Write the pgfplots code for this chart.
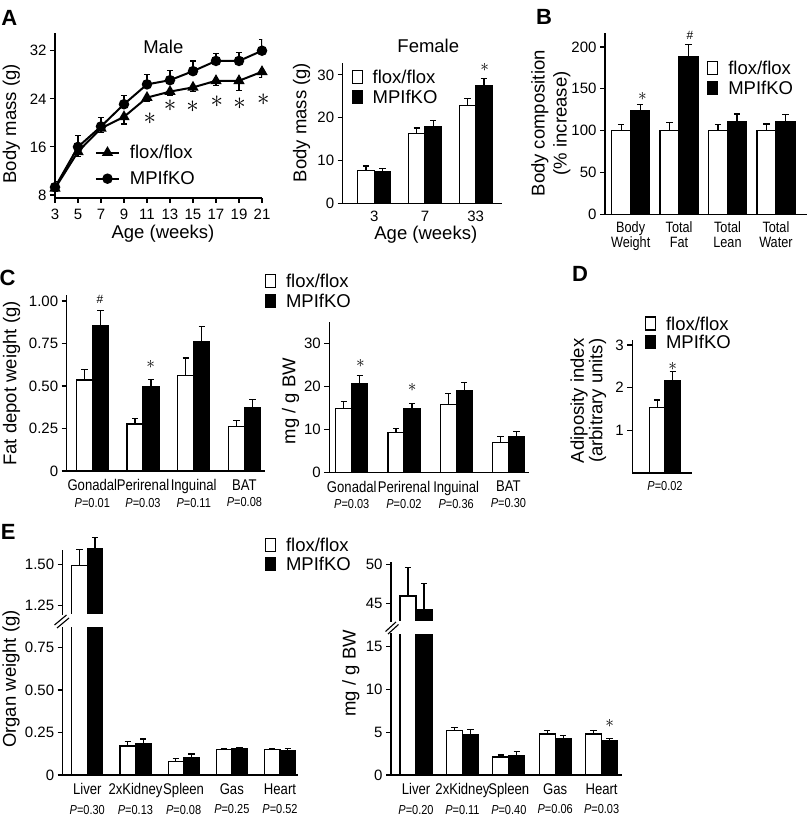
\documentclass[border=0pt]{standalone}
\usepackage{pgfplots}
\pgfplotsset{compat=1.18}
\usepackage{fontspec}
\setmainfont{Liberation Sans}
\newfontfamily\narrowfont[FakeStretch=0.845]{Liberation Sans}
\newcommand\tickfont{\fontsize{15}{17}\selectfont}
\newcommand\labfont{\fontsize{18.5}{21}\selectfont}
\newcommand\legfont{\fontsize{18.5}{21}\selectfont}
\newcommand\catfont{\narrowfont\fontsize{15.5}{16.5}\selectfont}
\newcommand\catfontB{\narrowfont\fontsize{15}{14.6}\selectfont}
\newcommand\pfont{\narrowfont\fontsize{13}{16}\selectfont}
\newcommand\panfont{\bfseries\fontsize{22}{24}\selectfont}
\newcommand\bigast{\fontsize{24.88}{26}\selectfont$\ast$}
\newcommand\smast{\fontsize{17.28}{18}\selectfont$\ast$}
\newcommand\hashm{\fontsize{12}{13}\selectfont\#}
\newcommand\Pv[1]{{\pfont\textit{P}=#1}}
\tikzset{ann/.style={inner sep=0pt}}

\pgfplotsset{
  base/.style={
    scale only axis, anchor=south west,
    axis lines=left, axis line style={-, line width=1.2pt},
    tick style={black, line width=1.2pt},
    major tick length=5pt, tick align=outside,
    ticklabel style={font=\tickfont},
    /pgf/number format/assume math mode=true,
    clip mode=individual,
    error bars/error bar style={line width=1.2pt, black},
    error bars/error mark options={rotate=90, mark size=3.2pt, line width=1.2pt, black},
  },
  legsty/.style={
    legend style={draw=none, fill=none, inner sep=0pt, outer sep=0pt,
      anchor=north west, column sep=10pt, font=\legfont,
      nodes={inner sep=0pt, text height=14pt, text depth=0.8pt}},
    legend cell align=left,
  },
  barax/.style={base, legsty, ybar=0pt,
    xtick style={draw=none},
    xticklabel style={font=\catfont, align=center},
    error bars/y dir=plus, error bars/y explicit,
    legend style={row sep=4.9pt},
  },
  wbar/.style={fill=white, draw=black, line width=1.2pt,
    legend image code/.code={\draw[fill=white,draw=black,line width=1.2pt] (0.6pt,-6.5pt) rectangle (10.4pt,6.5pt);}},
  kbar/.style={fill=black, draw=black, line width=1.2pt,
    legend image code/.code={\draw[fill=black,draw=black,line width=1.2pt] (0.6pt,-6.5pt) rectangle (10.4pt,6.5pt);}},
}

\begin{document}
\begin{tikzpicture}
\useasboundingbox (0,0) rectangle (807pt,816pt);

% ---------------- A: Male ----------------
\begin{axis}[base, legsty, at={(55pt,618pt)}, width=207pt, height=165pt,
  xmin=3, xmax=21, ymin=7.5, ymax=34.95,
  xtick={3,5,...,21}, ytick={8,16,24,32},
  xticklabel style={inner sep=1pt, yshift=-5pt},
  legend style={at={(0.1932,0.3255)}, row sep=11.2pt},
  legend image code/.code={\draw[mark repeat=2,mark phase=2,#1] plot coordinates {(0pt,-1pt) (11.5pt,-1pt) (23pt,-1pt)};}]
\addplot[black, line width=2pt, mark=triangle*, mark size=4.6pt,
  error bars/.cd, y dir=minus, y explicit] coordinates {
  (3,9.1) +- (0,0.5) (5,15.2) +- (0,0.8) (7,19.1) +- (0,0.7) (9,21.0) +- (0,1.2)
  (11,24.2) +- (0,0.6) (13,25.2) +- (0,0.6) (15,25.9) +- (0,0.7) (17,27.0) +- (0,0.8)
  (19,27.0) +- (0,1.6) (21,28.5) +- (0,0.9)};
\addplot[black, line width=2pt, mark=*, mark size=4.2pt,
  error bars/.cd, y dir=plus, y explicit] coordinates {
  (3,9.3) +- (0,1.0) (5,16.0) +- (0,1.9) (7,19.4) +- (0,1.5) (9,23.1) +- (0,1.5)
  (11,26.4) +- (0,1.7) (13,27.1) +- (0,1.6) (15,28.6) +- (0,1.7) (17,30.3) +- (0,1.2)
  (19,30.3) +- (0,1.4) (21,32.0) +- (0,1.9)};
\legend{flox/flox, MPIfKO}
\node[ann] at (axis cs:11.25,20.76) {\bigast};
\node[ann] at (axis cs:13.0,22.81) {\bigast};
\node[ann] at (axis cs:14.97,22.69) {\bigast};
\node[ann] at (axis cs:17.07,23.52) {\bigast};
\node[ann] at (axis cs:19.05,23.26) {\bigast};
\node[ann] at (axis cs:21.12,23.81) {\bigast};
\end{axis}

% ---------------- A: Female ----------------
\begin{axis}[barax, at={(342.7pt,612.7pt)}, width=159pt, height=140pt,
  xmin=-0.623, xmax=2.513, ymin=0, ymax=32.7, bar width=16.5pt,
  xtick={0,1,2}, xticklabels={3,7,33}, xticklabel style={font=\tickfont, inner sep=1pt, yshift=-2pt},
  ytick={0,10,20,30},
  legend style={at={(0.0566,0.9536)}}]
\addplot[wbar] coordinates {(0,7.7) +- (0,1.0) (1,16.3) +- (0,1.3) (2,22.8) +- (0,1.6)};
\addplot[kbar] coordinates {(0,7.4) +- (0,0.7) (1,18.0) +- (0,1.4) (2,27.6) +- (0,1.6)};
\legend{flox/flox, MPIfKO}
\node[ann] at (axis cs:2.178,31.7) {\smast};
\end{axis}

% ---------------- B ----------------
\begin{axis}[barax, at={(605pt,601.7pt)}, width=201.7pt, height=181pt,
  xmin=-0.53, xmax=3.636, ymin=0, ymax=216.4, bar width=19pt,
  xtick={0,1,2,3}, xticklabels={{Body\\Weight},{Total\\Fat},{Total\\Lean},{Total\\Water}},
  xticklabel style={font=\catfontB, yshift=1pt},
  ytick={0,50,100,150,200},
  legend style={at={(0.507,0.848)}}]
\addplot[wbar] coordinates {(0,100) +- (0,7) (1,100) +- (0,10) (2,100) +- (0,7) (3,100) +- (0,8)};
\addplot[kbar] coordinates {(0,123.5) +- (0,8) (1,189) +- (0,14) (2,111) +- (0,9) (3,110.5) +- (0,9)};
\legend{flox/flox, MPIfKO}
\node[ann] at (axis cs:0.244,140.6) {\smast};
\node[ann] at (axis cs:1.225,213.7) {\hashm};
\end{axis}

% ---------------- C left ----------------
\begin{axis}[barax, at={(66.7pt,345pt)}, width=198.3pt, height=176pt,
  xmin=-0.505, xmax=3.406, ymin=0, ymax=1.035, bar width=16pt,
  xtick={0,1,2,3}, xticklabels={{Gonadal\\\Pv{0.01}},{Perirenal\\\Pv{0.03}},{Inguinal\\\Pv{0.11}},{BAT\\\Pv{0.08}}},
  ytick={0,0.25,0.5,0.75,1}, yticklabels={0,0.25,0.50,0.75,1.00},
  legend style={at={(1.0,1.1216)}, row sep=5.2pt}]
\addplot[wbar] coordinates {(0,0.535) +- (0,0.063) (1,0.276) +- (0,0.034) (2,0.56) +- (0,0.105) (3,0.26) +- (0,0.036)};
\addplot[kbar] coordinates {(0,0.854) +- (0,0.088) (1,0.496) +- (0,0.043) (2,0.76) +- (0,0.088) (3,0.372) +- (0,0.05)};
\legend{flox/flox, MPIfKO}
\node[ann] at (axis cs:0.152,1.011) {\hashm};
\node[ann] at (axis cs:1.154,0.629) {\smast};
\end{axis}

% ---------------- C right ----------------
\begin{axis}[barax, at={(329.3pt,343.7pt)}, width=200pt, height=150.6pt,
  xmin=-0.43, xmax=3.40, ymin=0, ymax=35, bar width=16pt,
  xtick={0,1,2,3}, xticklabels={{Gonadal\\\Pv{0.03}},{Perirenal\\\Pv{0.02}},{Inguinal\\\Pv{0.36}},{BAT\\\Pv{0.30}}},
  ytick={0,10,20,30}]
\addplot[wbar] coordinates {(0,14.9) +- (0,1.5) (1,9.2) +- (0,1.0) (2,15.8) +- (0,2.6) (3,7.0) +- (0,1.3)};
\addplot[kbar] coordinates {(0,20.5) +- (0,2.0) (1,14.9) +- (0,1.1) (2,19.0) +- (0,1.9) (3,8.3) +- (0,1.2)};
\node[ann] at (axis cs:0.165,25.4) {\smast};
\node[ann] at (axis cs:1.159,19.8) {\smast};
\end{axis}

% ---------------- D ----------------
\begin{axis}[barax, at={(632.3pt,343pt)}, width=59.4pt, height=133pt,
  xmin=-1.09, xmax=0.89, ymin=0, ymax=3.115, bar width=15.7pt,
  xtick={0}, xticklabels={\Pv{0.02}},
  ytick={1,2,3},
  legend style={at={(0.2138,1.18)}, row sep=3.6pt}]
\addplot[wbar] coordinates {(0,1.54) +- (0,0.17)};
\addplot[kbar] coordinates {(0,2.16) +- (0,0.21)};
\legend{flox/flox, MPIfKO}
\node[ann] at (axis cs:0.26,2.49) {\smast};
\end{axis}

% ---------------- E left (lower) ----------------
\begin{axis}[barax, at={(62.7pt,41pt)}, width=235.6pt, height=148.3pt,
  xmin=-0.51, xmax=4.38, ymin=0, ymax=0.872, bar width=15.5pt,
  xtick={0,1,2,3,4},
  xticklabels={{Liver\\[3pt]\Pv{0.30}},{2xKidney\\[3pt]\Pv{0.13}},{Spleen\\[3pt]\Pv{0.08}},{Gas\\[3pt]\Pv{0.25}},{Heart\\[3pt]\Pv{0.52}}},
  ytick={0,0.25,0.5,0.75}, yticklabels={0,0.25,0.50,0.75},
  legend style={at={(0.8587,1.601)}, row sep=4.2pt}]
\addplot[wbar] coordinates {(0,1.495) +- (0,0.10) (1,0.17) +- (0,0.027) (2,0.081) +- (0,0.015) (3,0.148) +- (0,0.006) (4,0.150) +- (0,0.008)};
\addplot[kbar] coordinates {(0,1.60) +- (0,0.065) (1,0.187) +- (0,0.025) (2,0.102) +- (0,0.021) (3,0.154) +- (0,0.009) (4,0.142) +- (0,0.012)};
\legend{flox/flox, MPIfKO}
\end{axis}
% ---------------- E left (upper) ----------------
\begin{axis}[barax, at={(62.7pt,201pt)}, width=235.6pt, height=82.9pt,
  xmin=-0.51, xmax=4.38, ymin=1.19, ymax=1.70, bar width=15.5pt,
  axis x line=none, y axis line style={shorten >=17.9pt},
  ytick={1.25,1.5}, yticklabels={1.25,1.50}]
\addplot[wbar] coordinates {(0,1.495) +- (0,0.10)};
\addplot[kbar] coordinates {(0,1.60) +- (0,0.065)};
\end{axis}

% ---------------- E right (lower) ----------------
\begin{axis}[barax, at={(391pt,41pt)}, width=231.3pt, height=141.7pt,
  xmin=-0.539, xmax=4.446, ymin=0, ymax=16.57, bar width=16pt,
  xtick={0,1,2,3,4},
  xticklabels={{Liver\\[3pt]\Pv{0.20}},{2xKidney\\[3pt]\Pv{0.11}},{Spleen\\[3pt]\Pv{0.40}},{Gas\\[3pt]\Pv{0.06}},{Heart\\[3pt]\Pv{0.03}}},
  ytick={0,5,10,15}]
\addplot[wbar] coordinates {(0,46.0) +- (0,3.7) (1,5.2) +- (0,0.35) (2,2.1) +- (0,0.25) (3,4.8) +- (0,0.4) (4,4.8) +- (0,0.4)};
\addplot[kbar] coordinates {(0,44.3) +- (0,3.3) (1,4.7) +- (0,0.6) (2,2.3) +- (0,0.45) (3,4.3) +- (0,0.3) (4,4.0) +- (0,0.3)};
\node[ann] at (axis cs:4.175,5.99) {\smast};
\end{axis}
% ---------------- E right (upper) ----------------
\begin{axis}[barax, at={(391pt,194.3pt)}, width=231.3pt, height=60pt,
  xmin=-0.539, xmax=4.446, ymin=42.7, ymax=50.4, bar width=16pt,
  axis x line=none, ytick={45,50}]
\addplot[wbar] coordinates {(0,46.0) +- (0,3.7)};
\addplot[kbar] coordinates {(0,44.3) +- (0,3.3)};
\end{axis}

% gaps of the broken axes
\fill[white] (64pt,188.6pt) rectangle (298pt,201.7pt);
\fill[white] (392.5pt,182pt) rectangle (622pt,195pt);
% break marks
\draw[line width=1.1pt] (54.5pt,191pt) -- (66.5pt,201pt);
\draw[line width=1.1pt] (57pt,188pt) -- (69pt,198pt);
\draw[line width=1.1pt] (385.5pt,184.5pt) -- (396pt,194pt);
\draw[line width=1.1pt] (388pt,182pt) -- (398.5pt,191.5pt);

% panel letters
\node[font=\panfont] at (9.2pt,798.5pt) {A};
\node[font=\panfont] at (544pt,799.3pt) {B};
\node[font=\panfont] at (7.5pt,538.5pt) {C};
\node[font=\panfont] at (580pt,541.8pt) {D};
\node[font=\panfont] at (8.3pt,284.3pt) {E};

% titles and axis labels
\node[font=\labfont] at (163.3pt,769.3pt) {Male};
\node[font=\labfont] at (428.3pt,770pt) {Female};
\node[font=\labfont, rotate=90] at (11.3pt,692pt) {Body mass (g)};
\node[font=\labfont, inner sep=0pt] at (163pt,582pt) {Age (weeks)};
\node[font=\labfont, rotate=90] at (301.7pt,693.5pt) {Body mass (g)};
\node[font=\labfont, inner sep=0pt] at (425.8pt,581.5pt) {Age (weeks)};
\node[font=\labfont, rotate=90, align=center, inner sep=0pt] at (550.8pt,692.7pt) {Body composition\\[1pt](\% increase)};
\node[font=\labfont, rotate=90] at (11.7pt,432.5pt) {Fat depot weight (g)};
\node[font=\labfont, rotate=90] at (290.5pt,415pt) {mg / g BW};
\node[font=\fontsize{18.5}{18.5}\selectfont, rotate=90, align=center, inner sep=0pt] at (588.3pt,415.2pt) {Adiposity index\\(arbitrary units)};
\node[font=\labfont, rotate=90] at (11pt,137pt) {Organ weight (g)};
\node[font=\labfont, rotate=90] at (350.8pt,142.7pt) {mg / g BW};
\end{tikzpicture}
\end{document}
